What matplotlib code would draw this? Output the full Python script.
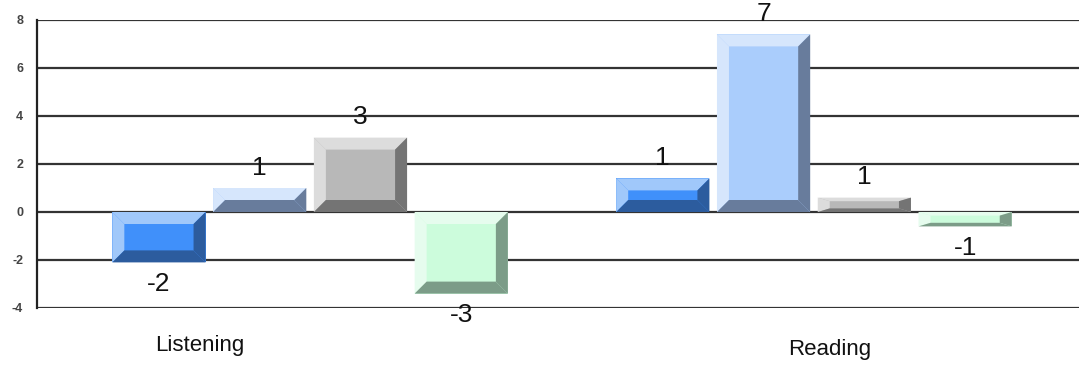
import matplotlib.pyplot as plt
from matplotlib.patches import Polygon
import numpy as np

# data (labels are the rounded values)
groups = ['Listening', 'Reading']
vals = [
    [-2.1, 1.4],   # series 1 (blue)
    [1.0, 7.4],    # series 2 (light blue)
    [3.1, 0.6],    # series 3 (grey)
    [-3.4, -0.6],  # series 4 (mint)
]
yticks = [-4, -2, 0, 2, 4, 6, 8]

# face, light bevel, dark bevel
colors = [
    ('#4090fa', '#a0c8fa', '#2c5c9e'),
    ('#aacdfc', '#d6e6fc', '#687c9c'),
    ('#b8b8b8', '#dcdcdc', '#747474'),
    ('#ccfcdc', '#e6fcee', '#7c9c88'),
]

fig = plt.figure(figsize=(10.79, 3.65), dpi=100)
ax = fig.add_axes([37/1079, 57/365, 1042/1079, 288/365])

x = np.arange(len(groups))
width = 0.185
step = 0.2
px_x = 1.0/504   # data units per pixel
px_y = 1.0/24

ax.set_xlim(-0.542, 1.526)
ax.set_ylim(-4, 8)

for i, series in enumerate(vals):
    face, light, dark = colors[i]
    pos = x + (i - 1.5)*step
    bars = ax.bar(pos, series, width, color=face, zorder=3, linewidth=0)
    for b, v in zip(bars, series):
        x0 = b.get_x(); x1 = x0 + b.get_width()
        y0 = min(0, v); y1 = max(0, v)
        h_px = (y1 - y0)/px_y
        bv = 12 if h_px >= 24 else h_px*0.25
        bx = 12*px_x
        by = bv*px_y
        polys = [
            ([(x0, y1), (x1, y1), (x1-bx, y1-by), (x0+bx, y1-by)], light),
            ([(x0, y0), (x0, y1), (x0+bx, y1-by), (x0+bx, y0+by)], light),
            ([(x1, y1), (x1, y0), (x1-bx, y0+by), (x1-bx, y1-by)], dark),
            ([(x0, y0), (x1, y0), (x1-bx, y0+by), (x0+bx, y0+by)], dark),
        ]
        for pts, c in polys:
            ax.add_patch(Polygon(pts, closed=True, facecolor=c, edgecolor='none', zorder=4))
        lab = str(int(round(v)))
        if v >= 0:
            ax.text(b.get_x() + b.get_width()/2, v + 0.35, lab, ha='center', va='bottom',
                    fontsize=19, family=['Liberation Sans Narrow', 'Liberation Sans', 'DejaVu Sans'],
                    color='#111111', zorder=5)
        else:
            ax.text(b.get_x() + b.get_width()/2, v - 0.4, lab, ha='center', va='top',
                    fontsize=19, family=['Liberation Sans Narrow', 'Liberation Sans', 'DejaVu Sans'],
                    color='#111111', zorder=5)

# grid lines
for t in yticks:
    ax.axhline(t, color='#333333', linewidth=1.6, zorder=1)

ax.set_yticks(yticks)
ax.set_yticklabels([str(t) for t in yticks], fontsize=9, fontweight='bold', color='#444444',
                   family=['Liberation Sans Narrow', 'Liberation Sans', 'DejaVu Sans'])
ax.tick_params(axis='y', length=0, pad=10)
ax.set_xticks([])
for s in ['top', 'right', 'bottom']:
    ax.spines[s].set_visible(False)
ax.spines['left'].set_color('#222222')
ax.spines['left'].set_linewidth(1.6)

# category labels
fig.text(200/1079, 1 - 346/365, groups[0], ha='center', va='center', fontsize=16,
         family='Liberation Sans', color='#111111')
fig.text(830/1079, 1 - 349/365, groups[1], ha='center', va='center', fontsize=16,
         family='Liberation Sans', color='#111111')

fig.savefig('out.png', dpi=100)
